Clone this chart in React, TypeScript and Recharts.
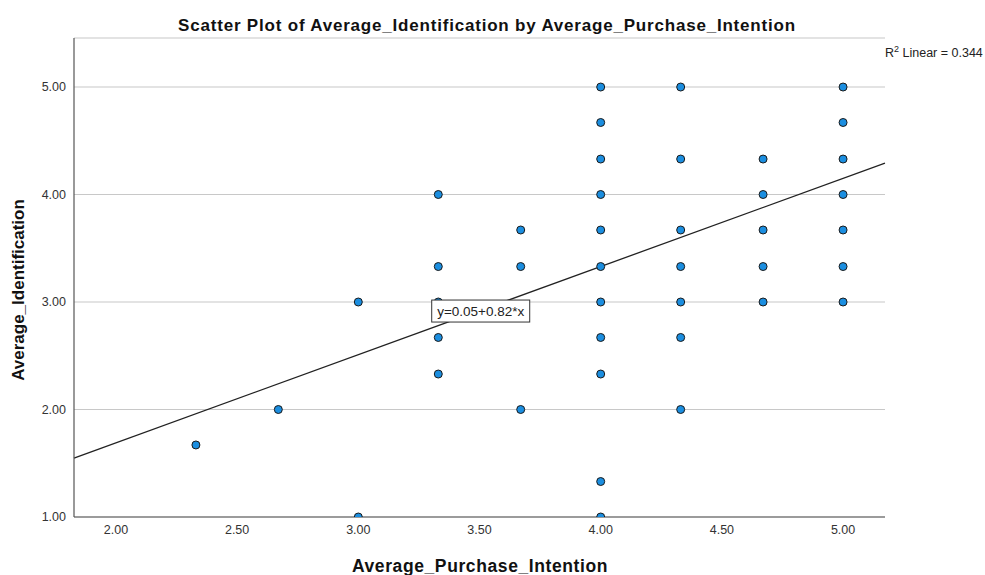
import React from "react";
import {
  ScatterChart,
  Scatter,
  XAxis,
  YAxis,
  CartesianGrid,
  ReferenceLine,
  ReferenceDot,
  Customized,
} from "recharts";

// Observations: Average_Purchase_Intention (x) and Average_Identification (y)
const purchaseIntention = [
  2.33, 2.67,
  3.0, 3.0,
  3.33, 3.33, 3.33, 3.33, 3.33,
  3.67, 3.67, 3.67,
  4.0, 4.0, 4.0, 4.0, 4.0, 4.0, 4.0, 4.0, 4.0, 4.0, 4.0,
  4.33, 4.33, 4.33, 4.33, 4.33, 4.33, 4.33,
  4.67, 4.67, 4.67, 4.67, 4.67,
  5.0, 5.0, 5.0, 5.0, 5.0, 5.0, 5.0,
];
const identification = [
  1.67, 2.0,
  3.0, 1.0,
  4.0, 3.33, 3.0, 2.67, 2.33,
  3.67, 3.33, 2.0,
  5.0, 4.67, 4.33, 4.0, 3.67, 3.33, 3.0, 2.67, 2.33, 1.33, 1.0,
  5.0, 4.33, 3.67, 3.33, 3.0, 2.67, 2.0,
  4.33, 4.0, 3.67, 3.33, 3.0,
  5.0, 4.67, 4.33, 4.0, 3.67, 3.33, 3.0,
];

const xTicks = [2.0, 2.5, 3.0, 3.5, 4.0, 4.5, 5.0];
const yTicks = [1.0, 2.0, 3.0, 4.0, 5.0];
const xDomain: [number, number] = [1.827, 5.173];
const yDomain: [number, number] = [1.0, 5.456];

// Fit line y = intercept + slope * x
const intercept = 0.05;
const slope = 0.82;
const rSquared = 0.344;
const fitLabelAt = { x: 3.505, y: 2.916 };

const chartTitle = "Scatter Plot of Average_Identification by Average_Purchase_Intention";
const xTitle = "Average_Purchase_Intention";
const yTitle = "Average_Identification";

const points = purchaseIntention.map((x, i) => ({ x, y: identification[i] }));

const fit = (x: number) => intercept + slope * x;

const FONT = "'Liberation Sans', Arial, sans-serif";

const Dot = (props: any) => {
  const { cx, cy } = props;
  return <circle cx={cx} cy={cy} r={4} fill="#1b8ee0" stroke="#1a1a1a" strokeWidth={1} />;
};

const FitLabel = (props: any) => {
  const { cx, cy } = props;
  const w = 98;
  const h = 22;
  return (
    <g>
      <rect x={cx - w / 2} y={cy - h / 2} width={w} height={h} fill="#ffffff" stroke="#333333" strokeWidth={1} />
      <text x={cx} y={cy + 5} textAnchor="middle" fontFamily={FONT} fontSize={13.5} fill="#222">
        {`y=${intercept.toFixed(2)}+${slope.toFixed(2)}*x`}
      </text>
    </g>
  );
};

const Annotations = () => (
  <g>
    <text
      x={487}
      y={31}
      textAnchor="middle"
      fontFamily={FONT}
      fontSize={17}
      letterSpacing={0.8}
      fontWeight="bold"
      fill="#111"
    >
      {chartTitle}
    </text>
    <text x={885} y={57} fontFamily={FONT} fontSize={12.5} fill="#222">
      R<tspan dy={-5} fontSize={9}>2</tspan>
      <tspan dy={5}>{` Linear = ${rSquared.toFixed(3)}`}</tspan>
    </text>
    <text
      x={480}
      y={572}
      textAnchor="middle"
      fontFamily={FONT}
      fontSize={17.5}
      letterSpacing={0.6}
      fontWeight="bold"
      fill="#111"
    >
      {xTitle}
    </text>
    <text
      x={24}
      y={290}
      textAnchor="middle"
      transform="rotate(-90 24 290)"
      fontFamily={FONT}
      fontSize={17}
      fontWeight="bold"
      fill="#111"
    >
      {yTitle}
    </text>
  </g>
);

export default function App() {
  return (
    <div style={{ position: "absolute", left: 0, top: 0, width: 985, height: 575, background: "#fff" }}>
      <ScatterChart
        width={985}
        height={575}
        margin={{ top: 38, right: 100, bottom: 0, left: 0 }}
      >
        <CartesianGrid vertical={false} stroke="#c8c8c8" strokeWidth={1.2} />
        <XAxis
          type="number"
          dataKey="x"
          domain={xDomain}
          ticks={xTicks}
          allowDataOverflow
          tickFormatter={(v: number) => v.toFixed(2)}
          tickLine={false}
          axisLine={{ stroke: "#555", strokeWidth: 1.2 }}
          tick={{ fontFamily: FONT, fontSize: 12.5, fill: "#333" }}
          height={58}
        />
        <YAxis
          type="number"
          dataKey="y"
          domain={yDomain}
          ticks={yTicks}
          allowDataOverflow
          tickFormatter={(v: number) => v.toFixed(2)}
          tickLine={false}
          axisLine={{ stroke: "#555", strokeWidth: 1.2 }}
          tick={{ fontFamily: FONT, fontSize: 12.5, fill: "#333" }}
          width={74}
        />
        <ReferenceLine
          segment={[
            { x: xDomain[0], y: fit(xDomain[0]) },
            { x: xDomain[1], y: fit(xDomain[1]) },
          ]}
          stroke="#222"
          strokeWidth={1.3}
          ifOverflow="visible"
        />
        <Scatter data={points} shape={<Dot />} isAnimationActive={false} />
        <ReferenceDot x={fitLabelAt.x} y={fitLabelAt.y} r={0} shape={<FitLabel />} ifOverflow="visible" />
        <Customized component={Annotations} />
      </ScatterChart>
    </div>
  );
}
